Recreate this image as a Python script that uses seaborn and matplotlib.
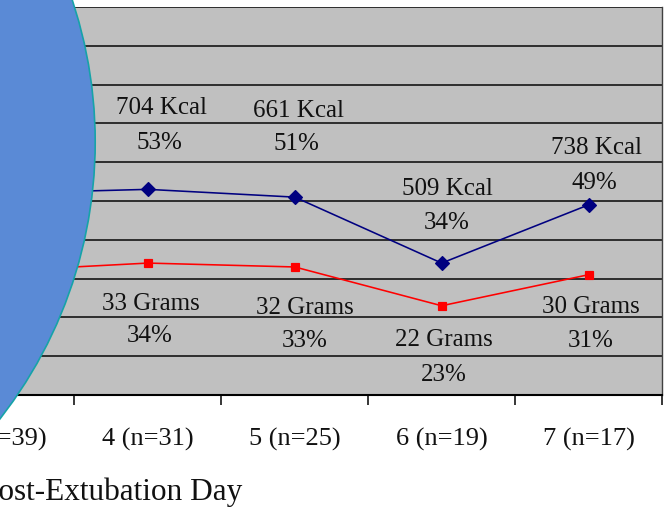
import matplotlib
matplotlib.use("Agg")
import matplotlib.pyplot as plt
from matplotlib.patches import Circle
import pandas as pd
import seaborn as sns

# Post-extubation intake by day (share of goal, %)
days = ["3 (n=39)", "4 (n=31)", "5 (n=25)", "6 (n=19)", "7 (n=17)"]
kcal_pct = [52, 53, 51, 34, 49]
protein_pct = [32, 34, 33, 23, 31]
kcal_totals = [None, 704, 661, 509, 738]
protein_totals = [None, 33, 32, 22, 30]

# label placement (pixel offsets of each text baseline from its point)
kcal_offsets = [None, (14, -75), (4, -80), (6, -68), (8, -51)]
kcal_pct_offsets = [None, (12, -40), (2, -47), (5, -34), (6, -16)]
protein_offsets = [None, (3, 47), (10, 47), (2, 40), (2, 38)]
protein_pct_offsets = [None, (2, 79), (10, 80), (2, 75), (2, 72)]

sns.set_style("white")
plt.rcParams["font.family"] = ["Liberation Serif", "DejaVu Serif"]

W, H = 666, 509
fig = plt.figure(figsize=(W / 100, H / 100), dpi=100)
fig.patch.set_facecolor("white")

left_px, right_px, top_px, bot_px = -72.5, 662, 7, 395
ax = fig.add_axes([left_px / W, 1 - bot_px / H,
                   (right_px - left_px) / W, (bot_px - top_px) / H])

df = pd.DataFrame({
    "day": days * 2,
    "pct": kcal_pct + protein_pct,
    "series": ["Kcal"] * len(days) + ["Grams"] * len(days),
})
palette = {"Kcal": "#000080", "Grams": "#FF0000"}

sns.pointplot(data=df, x="day", y="pct", hue="series", order=days,
              hue_order=["Kcal", "Grams"], palette=palette,
              markers=["D", "s"], linestyles=["-", "-"], errorbar=None,
              legend=False, ax=ax, markersize=6.3, linewidth=1.15)
for ln in ax.lines:
    if ln.get_marker() == "D":
        ln.set_markersize(7)

ax.set_facecolor("#C0C0C0")
ax.set_xlim(-0.5, len(days) - 0.5)
ax.set_ylim(0, 100)
ax.set_yticks(range(0, 101, 10))
ax.yaxis.grid(True, color="#2e2e2e", linewidth=1.4)
ax.set_axisbelow(True)
ax.tick_params(axis="y", left=False, labelleft=False)
ax.set_ylabel("")

ax.set_xticks([i - 0.5 for i in range(len(days) + 1)])
ax.set_xticklabels([])
ax.set_xticks(range(len(days)), days, minor=True)
ax.tick_params(axis="x", which="major", length=7.2, width=1.1,
               color="black", direction="out", bottom=True)
ax.tick_params(axis="x", which="minor", length=0, pad=23.5,
               labelsize=19, labelcolor="#111111")

for side in ["top", "left"]:
    ax.spines[side].set_visible(False)
ax.spines["bottom"].set_color("black")
ax.spines["bottom"].set_linewidth(1.5)
ax.spines["right"].set_color("#404040")
ax.spines["right"].set_linewidth(1.0)

ax.set_xlabel("Post-Extubation Day", fontsize=22.5, color="#111111")
ax.xaxis.set_label_coords((111.5 - left_px) / (right_px - left_px),
                          (bot_px - 500) / (bot_px - top_px))
ax.xaxis.label.set_va("baseline")

def put(i, value, text, off):
    ax.annotate(text, xy=(i, value), xytext=(off[0], -off[1]),
                textcoords="offset pixels", ha="center", va="baseline",
                fontsize=18, color="#111111")

for i in range(len(days)):
    if kcal_totals[i] is not None:
        put(i, kcal_pct[i], f"{kcal_totals[i]} Kcal", kcal_offsets[i])
        put(i, kcal_pct[i], f"{kcal_pct[i]}%", kcal_pct_offsets[i])
    if protein_totals[i] is not None:
        put(i, protein_pct[i], f"{protein_totals[i]} Grams", protein_offsets[i])
        put(i, protein_pct[i], f"{protein_pct[i]}%", protein_pct_offsets[i])

# slide shape overlapping the left side of the chart
circle = Circle((-3.548, 3.67), 4.5, transform=fig.dpi_scale_trans,
                facecolor="#5A8AD6", edgecolor="#16A3A8", linewidth=1.2,
                zorder=10)
fig.add_artist(circle)

fig.savefig("out.png", dpi=100)
